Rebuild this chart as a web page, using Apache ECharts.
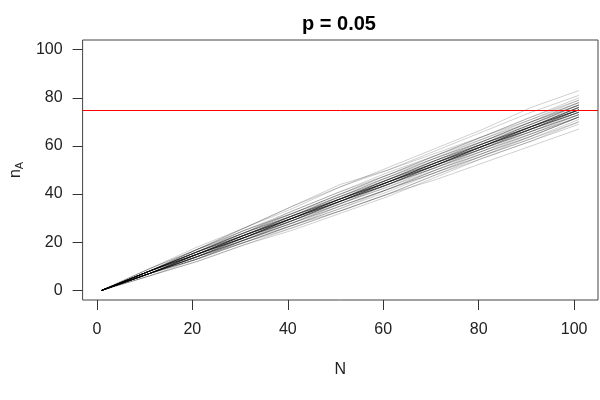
<!DOCTYPE html>
<html>
<head>
<meta charset="utf-8">
<script src="https://cdn.jsdelivr.net/npm/echarts@6/dist/echarts.min.js"></script>
<style>html,body{margin:0;padding:0;background:#fff}#c{width:600px;height:400px}</style>
</head>
<body>
<div id="c"></div>
<script>
// ---- data ----
const titleText = 'p = 0.05';
const xTicks = [0, 20, 40, 60, 80, 100];
const yTicks = [0, 20, 40, 60, 80, 100];
const thresholdY = 75;
const nValues = [1, 11, 21, 31, 41, 51, 61, 71, 81, 91, 101];

// core runs
const run01 = [0, 7, 15, 22, 30, 37, 45, 52, 60, 67, 75];
const run02 = [0, 8, 15, 23, 30, 38, 45, 53, 60, 68, 75];
const run03 = [0, 8, 16, 23, 31, 38, 46, 53, 61, 68, 76];
const run04 = [0, 7, 14, 22, 29, 37, 44, 52, 59, 67, 74];
const run05 = [0, 8, 16, 24, 31, 39, 46, 54, 61, 69, 76];
const run06 = [0, 7, 14, 21, 29, 36, 44, 51, 59, 66, 74];
const run07 = [0, 8, 15, 23, 31, 38, 46, 54, 61, 69, 77];
const run08 = [0, 7, 15, 22, 29, 37, 44, 51, 59, 66, 73];
const run09 = [0, 8, 16, 24, 32, 39, 47, 54, 62, 69, 77];
const run10 = [0, 7, 14, 21, 28, 36, 43, 51, 58, 66, 73];
const run11 = [0, 7, 15, 23, 31, 38, 45, 52, 60, 68, 76];
const run12 = [0, 8, 15, 22, 29, 37, 45, 53, 60, 67, 74];
const run13 = [0, 8, 16, 23, 30, 37, 44, 52, 60, 68, 75];
const run14 = [0, 7, 14, 22, 30, 38, 46, 53, 60, 67, 75];
const run15 = [0, 8, 15, 22, 30, 38, 46, 54, 62, 70, 78];
const run16 = [0, 7, 15, 23, 30, 37, 44, 51, 58, 65, 72];
const run17 = [0, 8, 16, 24, 31, 38, 45, 52, 59, 67, 74];
const run18 = [0, 7, 14, 21, 29, 37, 45, 53, 61, 68, 76];
const run19 = [0, 8, 15, 23, 30, 38, 46, 53, 61, 69, 77];
const run20 = [0, 7, 15, 22, 30, 37, 44, 52, 59, 66, 73];
const run21 = [0, 8, 16, 23, 31, 39, 46, 54, 61, 68, 75];
const run22 = [0, 7, 14, 22, 29, 36, 44, 52, 60, 68, 75];
const run23 = [0, 8, 15, 22, 30, 37, 45, 52, 59, 67, 75];
const run24 = [0, 7, 15, 23, 31, 38, 45, 53, 60, 68, 76];
const run25 = [0, 8, 15, 23, 30, 38, 45, 52, 60, 67, 74];
const run26 = [0, 7, 15, 22, 30, 38, 45, 53, 61, 68, 76];
const run27 = [0, 8, 15, 22, 29, 37, 44, 52, 60, 67, 75];
const run28 = [0, 7, 15, 23, 30, 37, 45, 52, 60, 68, 75];
const run29 = [0, 8, 16, 23, 30, 38, 45, 53, 60, 67, 74];
const run30 = [0, 7, 14, 22, 30, 37, 45, 53, 61, 68, 75];
// wider runs
const run31 = [0, 8, 16, 25, 32, 40, 48, 56, 63, 71, 78];
const run32 = [0, 7, 13, 20, 27, 35, 42, 49, 57, 64, 72];
const run33 = [0, 8, 17, 25, 33, 41, 48, 56, 64, 71, 79];
const run34 = [0, 7, 14, 20, 27, 34, 41, 49, 56, 63, 71];
const run35 = [0, 9, 17, 24, 32, 40, 48, 55, 62, 70, 77];
const run36 = [0, 6, 13, 21, 28, 35, 42, 50, 57, 64, 72];
const run37 = [0, 8, 16, 24, 33, 41, 49, 56, 64, 72, 79];
const run38 = [0, 7, 13, 20, 27, 34, 42, 49, 56, 63, 70];
const run39 = [0, 8, 16, 24, 31, 39, 47, 55, 63, 70, 78];
const run40 = [0, 7, 14, 21, 28, 35, 42, 50, 57, 65, 73];
const run41 = [0, 8, 17, 25, 32, 40, 47, 55, 62, 70, 77];
const run42 = [0, 7, 13, 21, 28, 36, 43, 50, 58, 65, 72];
// outlying runs
const run43 = [0, 9, 17, 26, 34, 43, 51, 59, 67, 76, 83];
const run44 = [0, 8, 17, 26, 35, 43, 50, 58, 66, 74, 81];
const run45 = [0, 7, 13, 20, 26, 33, 40, 46, 53, 60, 67];
const run46 = [0, 6, 12, 19, 26, 33, 40, 48, 55, 62, 69];
const run47 = [0, 9, 18, 26, 35, 44, 50, 57, 64, 72, 80];
const run48 = [0, 6, 12, 19, 25, 32, 39, 47, 55, 62, 70];
const run49 = [0, 7, 14, 21, 27, 33, 40, 48, 56, 64, 72];

const runs = [run01, run02, run03, run04, run05, run06, run07, run08, run09, run10,
  run11, run12, run13, run14, run15, run16, run17, run18, run19, run20,
  run21, run22, run23, run24, run25, run26, run27, run28, run29, run30,
  run31, run32, run33, run34, run35, run36, run37, run38, run39, run40,
  run41, run42, run43, run44, run45, run46, run47, run48, run49];

// ---- chart ----
const FONT = '"Liberation Sans", Arial, sans-serif';
const series = runs.map((r) => ({
  type: 'line',
  data: nValues.map((n, i) => [n, r[i]]),
  showSymbol: false,
  silent: true,
  lineStyle: { color: 'rgba(0,0,0,0.19)', width: 1 },
  z: 2
}));
series.push({
  type: 'line',
  data: [],
  silent: true,
  z: 5,
  markLine: {
    silent: true,
    symbol: 'none',
    label: { show: false },
    lineStyle: { color: '#ff0000', width: 1, type: 'solid' },
    data: [{ yAxis: thresholdY }]
  }
});

const chart = echarts.init(document.getElementById('c'), null, { renderer: 'canvas' });
chart.setOption({
  animation: false,
  backgroundColor: '#fff',
  title: {
    text: titleText,
    left: 297,
    top: 9,
    textStyle: { fontFamily: FONT, fontWeight: 'bold', fontSize: 20, color: '#000' }
  },
  grid: {
    left: 80, right: 2, top: 40, bottom: 100,
    show: true, borderColor: '#444', borderWidth: 1, backgroundColor: 'transparent'
  },
  xAxis: {
    type: 'value', min: -3, max: 105,
    name: 'N', nameLocation: 'middle', nameGap: 62,
    nameTextStyle: { fontFamily: FONT, fontSize: 16, color: '#222' },
    axisLine: { show: false, onZero: false },
    splitLine: { show: false },
    axisTick: { show: true, inside: false, customValues: xTicks, length: 10, lineStyle: { color: '#333' } },
    axisLabel: { customValues: xTicks, margin: 22, fontFamily: FONT, fontSize: 16, color: '#222' }
  },
  yAxis: {
    type: 'value', min: -4, max: 104,
    name: '{n|n}{a|A}', nameLocation: 'middle', nameGap: 56, nameRotate: 90,
    nameTextStyle: {
      fontFamily: FONT, color: '#222',
      rich: {
        n: { fontFamily: FONT, fontSize: 16, color: '#222', lineHeight: 18 },
        a: { fontFamily: FONT, fontSize: 11, color: '#222', lineHeight: 8, verticalAlign: 'bottom' }
      }
    },
    axisLine: { show: false, onZero: false },
    splitLine: { show: false },
    axisTick: { show: true, inside: false, customValues: yTicks, length: 10, lineStyle: { color: '#333' } },
    axisLabel: { customValues: yTicks, margin: 20, fontFamily: FONT, fontSize: 16, color: '#222' }
  },
  series: series
});
</script>
</body>
</html>
